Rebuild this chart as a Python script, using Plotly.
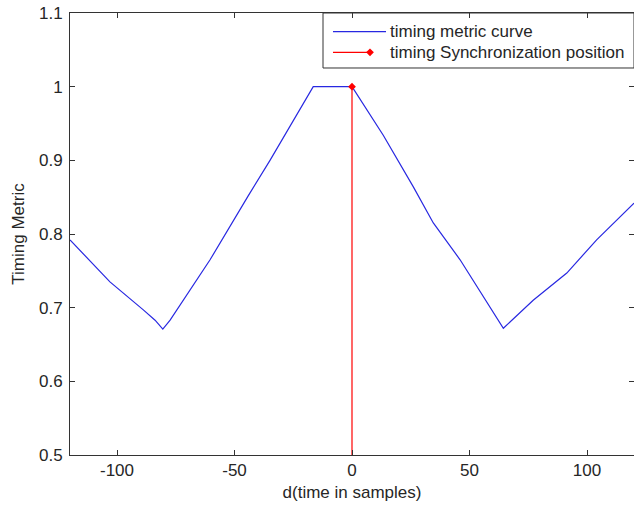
import plotly.graph_objects as go

# timing metric curve
curve_x = [-120, -103, -88.8, -83.8, -80.5, -77.4, -60.4, -51.2, -44.3, -34.9, -16.5,
           0, 13.3, 26.1, 34.6, 46.0, 55.9, 64.4, 77.1, 91.4, 104.1, 120]
curve_y = [0.792, 0.735, 0.697, 0.683, 0.671, 0.683, 0.765, 0.815, 0.851, 0.900, 1.0,
           1.0, 0.934, 0.864, 0.815, 0.765, 0.715, 0.672, 0.710, 0.747, 0.792, 0.842]

# timing synchronization position
sync_x = [0, 0]
sync_y = [0.5, 1.0]

x_ticks = [-100, -50, 0, 50, 100]
x_tick_text = ["-100", "-50", "0", "50", "100"]
y_ticks = [0.5, 0.6, 0.7, 0.8, 0.9, 1.0, 1.1]
y_tick_text = ["0.5", "0.6", "0.7", "0.8", "0.9", "1", "1.1"]

legend_names = ["timing metric curve", "timing Synchronization position"]

BLUE = "rgb(40,40,225)"
RED = "#ff0000"
AX = "#333333"
TXT = "#262626"
FONT = "Liberation Sans, Arial, sans-serif"
FS = 17

fig = go.Figure()
fig.add_trace(go.Scatter(x=curve_x, y=curve_y, mode="lines",
                         line=dict(color=BLUE, width=1.2), showlegend=False))
fig.add_trace(go.Scatter(x=sync_x, y=sync_y, mode="lines",
                         line=dict(color=RED, width=1.2), showlegend=False))
fig.add_trace(go.Scatter(x=sync_x[-1:], y=sync_y[-1:], mode="markers",
                         marker=dict(color=RED, size=6, symbol="diamond"), showlegend=False))

axis_common = dict(showline=True, linecolor=AX, linewidth=1, mirror="allticks",
                   ticks="inside", ticklen=5, tickcolor=AX, showgrid=False,
                   zeroline=False, automargin=False,
                   tickfont=dict(family=FONT, size=FS, color=TXT))

fig.update_xaxes(range=[-120, 120], tickvals=x_ticks, ticktext=x_tick_text,
                 title=dict(text="d(time in samples)", font=dict(family=FONT, size=FS, color=TXT),
                            standoff=6),
                 **axis_common)
fig.update_yaxes(range=[0.5, 1.1], tickvals=y_ticks, ticktext=y_tick_text,
                 ticklabelstandoff=3,
                 title=dict(text="Timing Metric", font=dict(family=FONT, size=FS, color=TXT),
                            standoff=10),
                 **axis_common)

# custom legend (paper coordinates)
L, R = 0.4486, 1.0
fig.add_shape(type="rect", xref="paper", yref="paper", x0=L, x1=R, y0=0.8756, y1=1.0,
              line=dict(color=AX, width=1), fillcolor="white", layer="below")
fig.add_shape(type="line", xref="paper", yref="paper", x0=0.4663, x1=0.5603,
              y0=0.9577, y1=0.9577, line=dict(color=BLUE, width=1.2))
fig.add_shape(type="line", xref="paper", yref="paper", x0=0.4663, x1=0.5301,
              y0=0.9111, y1=0.9111, line=dict(color=RED, width=1.2))
fig.add_trace(go.Scatter(x=[0.5319], y=[0.9111], xaxis="x2", yaxis="y2", mode="markers",
                         marker=dict(color=RED, size=6, symbol="diamond"), showlegend=False,
                         hoverinfo="skip"))
fig.update_layout(xaxis2=dict(overlaying="x", range=[0, 1], visible=False),
                  yaxis2=dict(overlaying="y", range=[0, 1], visible=False))
for yy, name in zip([0.9577, 0.9111], legend_names):
    fig.add_annotation(xref="paper", yref="paper", x=0.5638, y=yy, text=name,
                       showarrow=False, xanchor="left", yanchor="middle",
                       font=dict(family=FONT, size=FS, color=TXT))

fig.update_layout(width=634, height=505,
                  margin=dict(l=70, r=0, t=13, b=50),
                  paper_bgcolor="white", plot_bgcolor="white", showlegend=False)

# remove the page's default body margin so the figure fills the window exactly
fig.write_html("out.html", config={"displayModeBar": False},
               post_script="document.body.style.margin='0';document.body.style.overflow='hidden';")
